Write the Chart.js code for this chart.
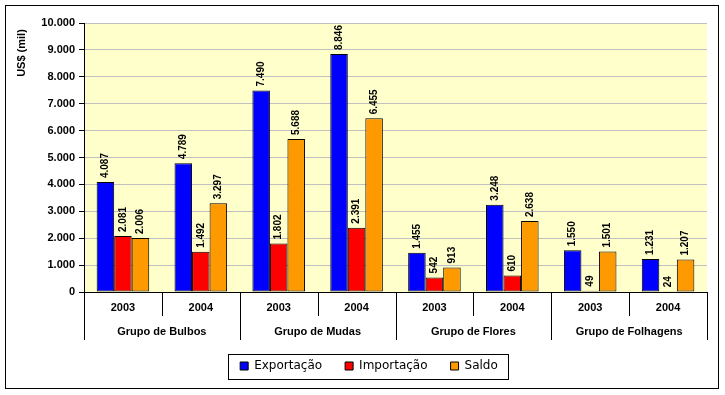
<!DOCTYPE html>
<html>
<head>
<meta charset="utf-8">
<script src="https://cdn.jsdelivr.net/npm/chart.js@4"></script>
<style>
  html, body { margin: 0; padding: 0; background: #fff; }
  #wrap { width: 725px; height: 395px; }
</style>
</head>
<body>
<div id="wrap"><canvas id="chart" width="725" height="395"></canvas></div>
<script>
const years = ["2003", "2004", "2003", "2004", "2003", "2004", "2003", "2004"];
const groups = ["Grupo de Bulbos", "Grupo de Mudas", "Grupo de Flores", "Grupo de Folhagens"];
const exportacao = [4087, 4789, 7490, 8846, 1455, 3248, 1550, 1231];
const importacao = [2081, 1492, 1802, 2391, 542, 610, 49, 24];
const saldo = [2006, 3297, 5688, 6455, 913, 2638, 1501, 1207];
const yTitle = "US$ (mil)";

const fmt = (v) => String(v).replace(/\B(?=(\d{3})+(?!\d))/g, ".");

Chart.defaults.font.family = "'Liberation Sans', Arial, sans-serif";
Chart.defaults.color = "#000";

// frame, plot background, separators, value labels, legend box
const decor = {
  id: "decor",
  afterLayout(chart) {
    // legend sits a bit right of centre in the original
    chart.legend.left += 13;
    chart.legend.right += 13;
  },
  beforeDraw(chart) {
    const { ctx, chartArea: a } = chart;
    ctx.save();
    ctx.fillStyle = "#fff";
    ctx.fillRect(0, 0, chart.width, chart.height);
    ctx.strokeStyle = "#000";
    ctx.lineWidth = 1;
    ctx.strokeRect(5.5, 5.5, 713, 383);
    ctx.fillStyle = "#FFFFCC";
    ctx.fillRect(a.left, a.top, a.right - a.left, a.bottom - a.top);
    ctx.restore();
  },
  afterDraw(chart) {
    const { ctx, chartArea: a } = chart;
    const x = chart.scales.x;
    const step = (a.right - a.left) / years.length;
    ctx.save();
    ctx.strokeStyle = "#000";
    ctx.lineWidth = 1;
    for (let i = 0; i <= years.length; i++) {
      const px = Math.round(a.left + i * step) + 0.5;
      ctx.beginPath();
      ctx.moveTo(px, x.top);
      ctx.lineTo(px, i % 2 === 0 ? x.top + 48 : x.top + 24);
      ctx.stroke();
    }

    // rotated value labels
    ctx.font = "bold 10px 'Liberation Sans', Arial, sans-serif";
    ctx.fillStyle = "#000";
    ctx.textAlign = "left";
    ctx.textBaseline = "middle";
    chart.data.datasets.forEach((ds, di) => {
      chart.getDatasetMeta(di).data.forEach((bar, i) => {
        ctx.save();
        ctx.translate(bar.x, bar.y - 4);
        ctx.rotate(-Math.PI / 2);
        ctx.fillText(fmt(ds.data[i]), 0, 0);
        ctx.restore();
      });
    });

    // y title near the top
    ctx.font = "bold 11px 'Liberation Sans', Arial, sans-serif";
    ctx.textAlign = "center";
    ctx.save();
    ctx.translate(22, 53);
    ctx.rotate(-Math.PI / 2);
    ctx.fillText(yTitle, 0, 0);
    ctx.restore();

    // legend border
    const hb = chart.legend.legendHitBoxes;
    if (hb && hb.length) {
      const l = hb[0].left - 12;
      const last = hb[hb.length - 1];
      const r = last.left + last.width + 10;
      const cy = hb[0].top + hb[0].height / 2;
      ctx.strokeRect(Math.round(l) + 0.5, Math.round(cy - 12.5) + 0.5, Math.round(r - l), 25);
    }
    ctx.restore();
  },
};

const barStyle = { borderColor: "#000", borderWidth: 1, borderSkipped: false,
  categoryPercentage: 0.675, barPercentage: 1 };

new Chart(document.getElementById("chart"), {
  type: "bar",
  data: {
    labels: years,
    datasets: [
      { label: "Exportação", data: exportacao, backgroundColor: "#0000FF", ...barStyle },
      { label: "Importação", data: importacao, backgroundColor: "#FF0000", ...barStyle },
      { label: "Saldo", data: saldo, backgroundColor: "#FF9900", ...barStyle },
    ],
  },
  options: {
    responsive: false,
    animation: false,
    layout: { padding: { left: 5, right: 18, top: 23, bottom: 13 } },
    plugins: {
      legend: {
        position: "bottom",
        labels: {
          boxWidth: 8,
          boxHeight: 8,
          padding: 23,
          color: "#000",
          font: { family: "'DejaVu Sans', Verdana, sans-serif", size: 12 },
        },
      },
      tooltip: { enabled: false },
    },
    scales: {
      x: {
        grid: { display: false, drawTicks: false },
        border: { display: true, color: "#000", width: 1 },
        ticks: { padding: 9, font: { size: 11, weight: "bold" }, color: "#000" },
        afterFit: (s) => { s.height = 24; },
      },
      x2: {
        type: "category",
        position: "bottom",
        labels: groups,
        grid: { display: false, drawTicks: false },
        border: { display: false },
        ticks: { padding: 9, font: { size: 11, weight: "bold" }, color: "#000" },
        afterFit: (s) => { s.height = 21; },
      },
      y: {
        min: 0,
        max: 10000,
        ticks: {
          stepSize: 1000,
          padding: 4,
          font: { size: 11, weight: "bold" },
          color: "#000",
          callback: (v) => fmt(v),
        },
        grid: { color: "#C0C0C0", tickColor: "#000", tickLength: 5 },
        border: { color: "#000", width: 1 },
        afterFit: (s) => { s.width = 79; },
      },
    },
  },
  plugins: [decor],
});
</script>
</body>
</html>
